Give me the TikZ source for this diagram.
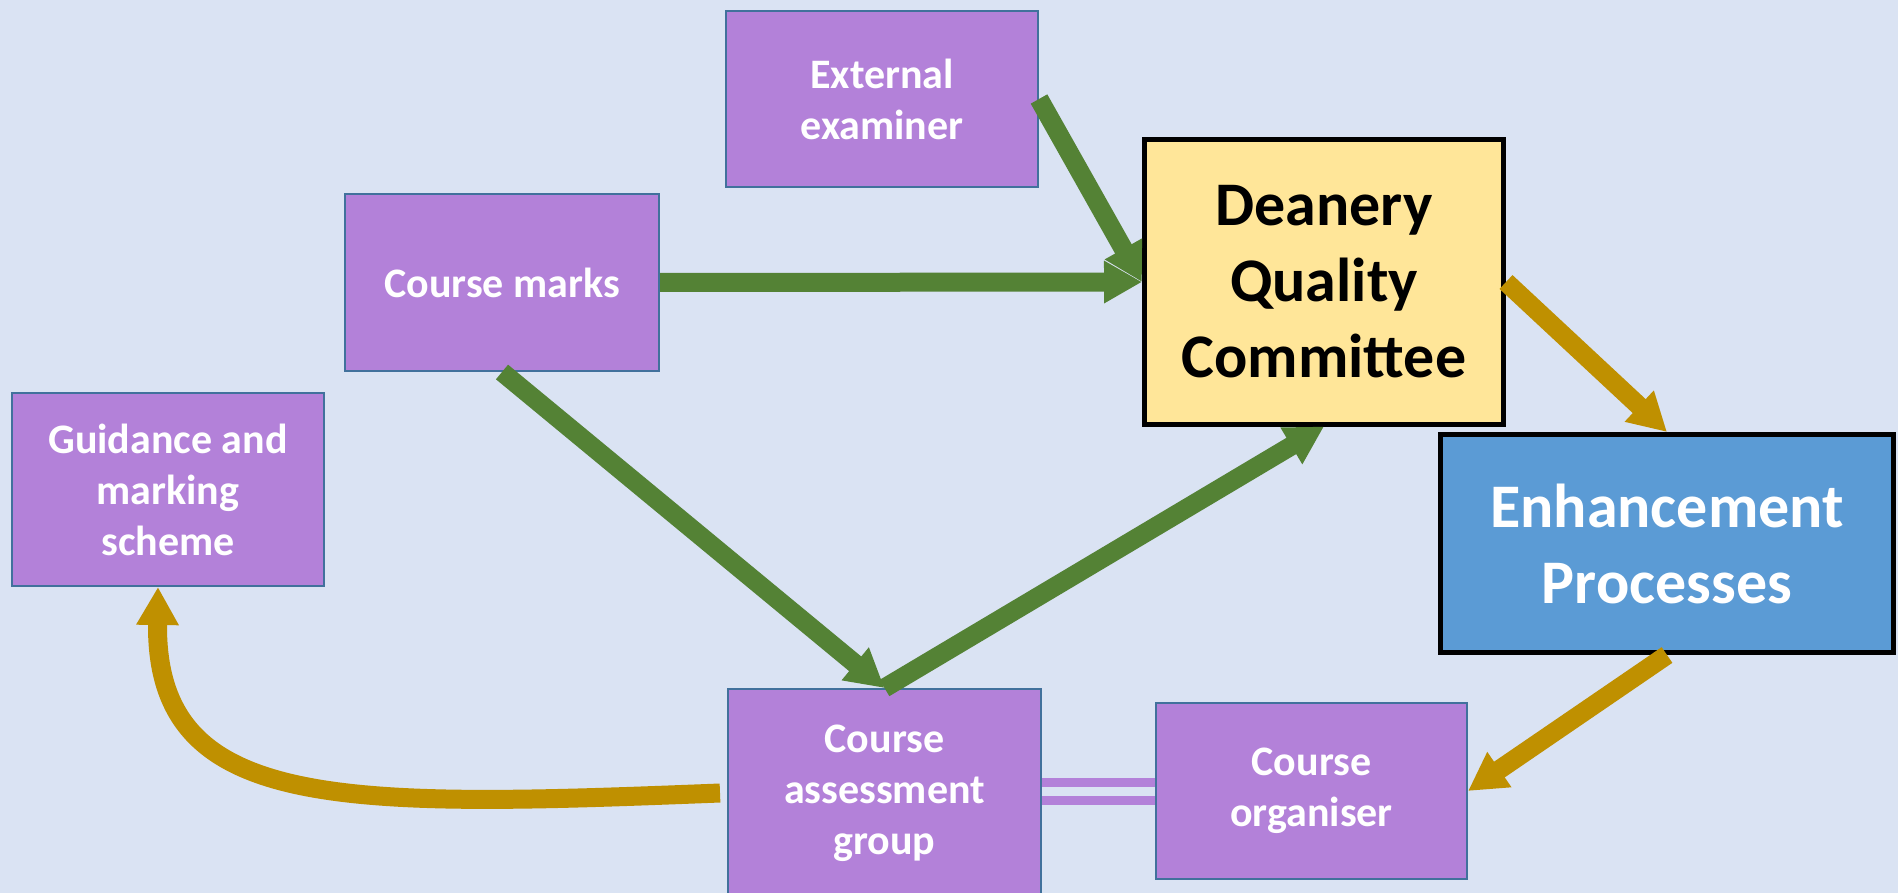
\documentclass[tikz,border=0pt]{standalone}
\usepackage{fontspec}
\setmainfont{Carlito}
\usetikzlibrary{arrows.meta}

\definecolor{bgblue}{HTML}{DAE3F3}
\definecolor{boxpurple}{HTML}{B381D9}
\definecolor{boxedge}{HTML}{41719C}
\definecolor{dqcyellow}{HTML}{FFE699}
\definecolor{epblue}{HTML}{5B9BD5}
\definecolor{flowgreen}{HTML}{548235}
\definecolor{flowgold}{HTML}{BF9000}

\begin{document}
\begin{tikzpicture}[x=1pt, y=-1pt,
  purplebox/.style={draw=boxedge, line width=2pt, fill=boxpurple, text=white,
    font=\fontsize{42}{51}\selectfont\bfseries, align=center, inner sep=0pt},
  keybox/.style={draw=black, line width=5pt,
    font=\fontsize{62}{76}\selectfont\bfseries, align=center, inner sep=0pt},
  greenflow/.style={draw=flowgreen, line width=19pt, -{Triangle[length=38pt,width=40pt]}},
  goldflow/.style={draw=flowgold, line width=19pt, -{Triangle[length=38pt,width=40pt]}},
  link/.style={draw=boxpurple, line width=9pt}
]
  % canvas
  \fill[bgblue] (0,0) rectangle (1898,893);
  \useasboundingbox (0,0) rectangle (1898,893);
  \clip (0,0) rectangle (1898,893);

  % boxes
  \node[purplebox, minimum width=312pt, minimum height=176pt] (ext) at (882,99)
    {External\\examiner};
  \node[purplebox, minimum width=314pt, minimum height=177pt] (cm) at (502,282.5)
    {Course marks};
  \node[purplebox, minimum width=312pt, minimum height=193pt] (g) at (168,489.5)
    {Guidance and\\marking\\scheme};
  \node[keybox, fill=dqcyellow, text=black, minimum width=359pt, minimum height=284pt]
    (dqc) at (1324,282) {Deanery\\Quality\\Committee};
  \node[keybox, fill=epblue, text=white, minimum width=453pt, minimum height=218pt]
    (ep) at (1667,543.5) {Enhancement\\Processes};
  \node[purplebox, minimum width=313pt, minimum height=208pt] (cag) at (884.5,793)
    {Course\\assessment\\group};
  \node[purplebox, minimum width=311pt, minimum height=176pt] (co) at (1311.5,791)
    {Course\\organiser};

  % link between assessment group and organiser
  \draw[link] ([yshift=9pt]co.west) -- ([yshift=9pt]co.west -| cag.east);
  \draw[link] ([yshift=-9pt]co.west) -- ([yshift=-9pt]co.west -| cag.east);

  % flows into the committee
  \draw[greenflow] (ext.east) -- (dqc.west);
  \draw[greenflow] (cm.east) -- (dqc.west);
  \draw[greenflow] (cm.south) -- (cag.north);
  \draw[greenflow] (cag.north) -- (dqc.south);

  % enhancement loop
  \draw[goldflow] (dqc.east) -- (ep.north);
  \draw[goldflow] (ep.south) -- (co.east);
  \draw[goldflow] ([xshift=-7pt]cag.west) .. controls (340,808) and (155,812) .. ([xshift=-10pt]g.south);
\end{tikzpicture}
\end{document}
